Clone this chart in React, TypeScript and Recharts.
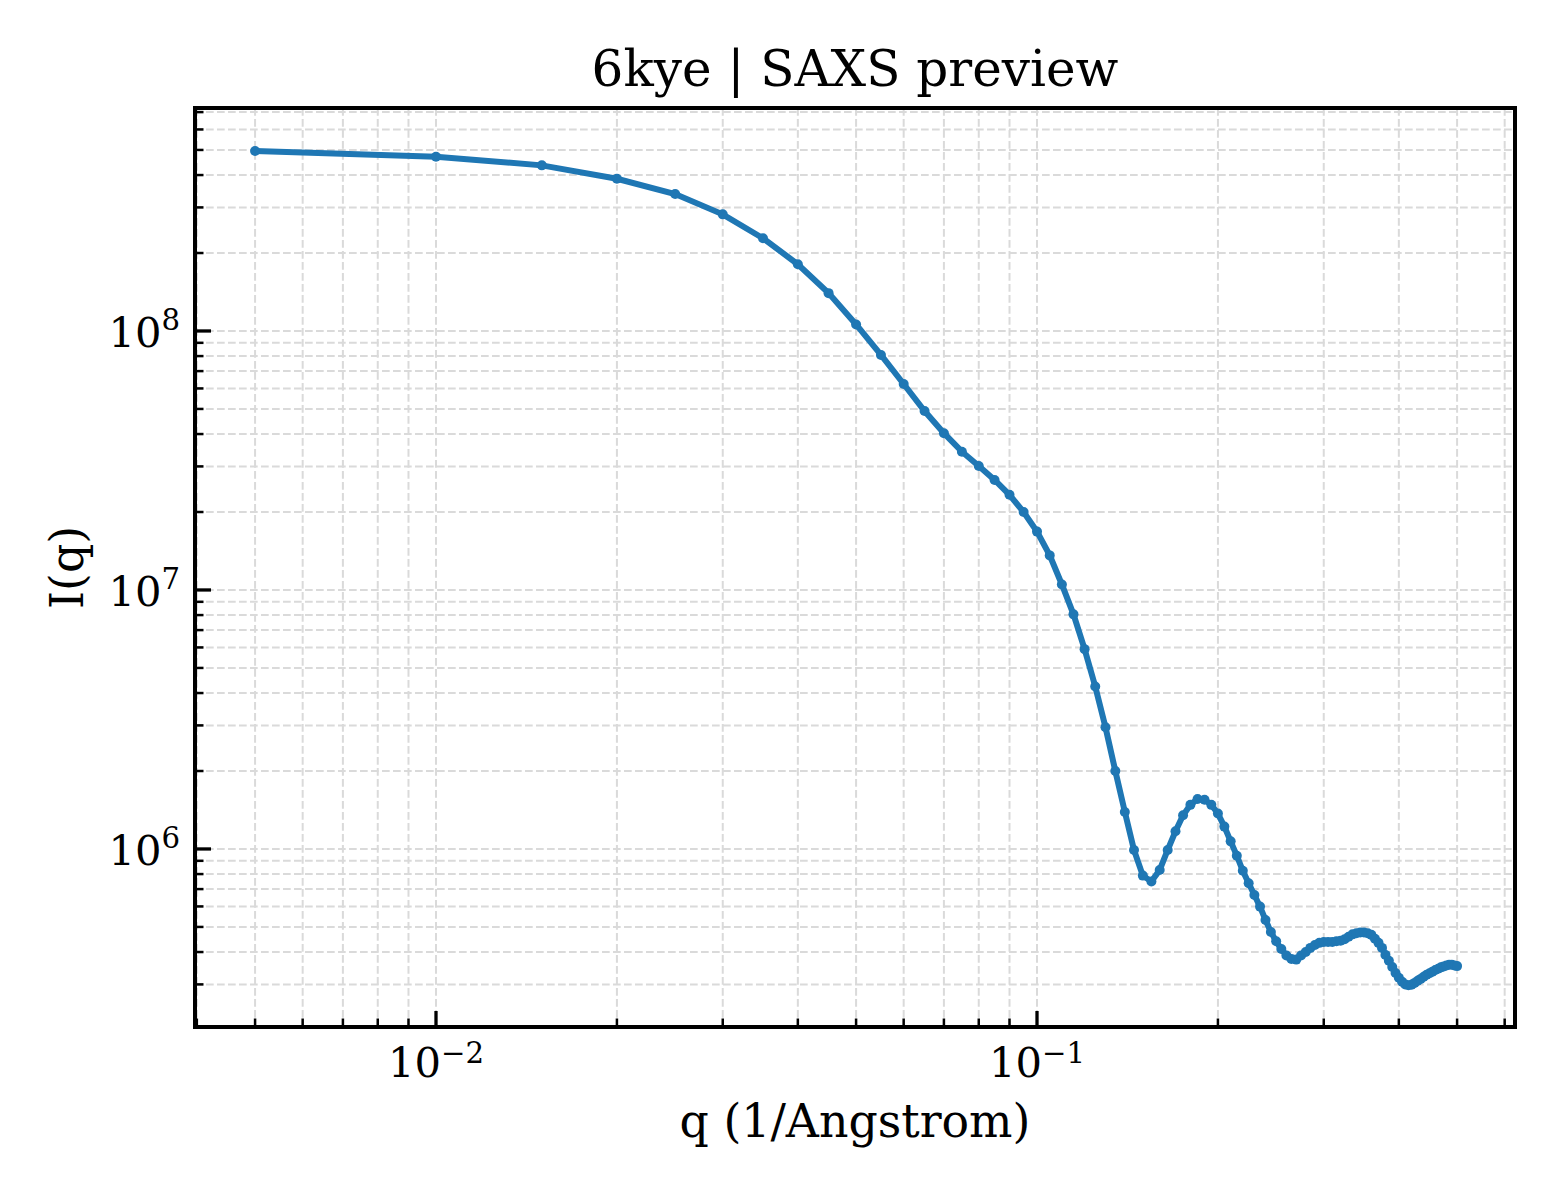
import React from 'react';
import { LineChart, Line, XAxis, YAxis, CartesianGrid, ReferenceArea } from 'recharts';

// q values (1/Angstrom)
const qValues = [
  0.005, 0.01, 0.015, 0.02, 0.025, 0.03, 0.035, 0.04, 0.045, 0.05,
  0.055, 0.06, 0.065, 0.07, 0.075, 0.08, 0.085, 0.09, 0.095, 0.1,
  0.105, 0.11, 0.115, 0.12, 0.125, 0.13, 0.135, 0.14, 0.145, 0.15,
  0.155, 0.16, 0.165, 0.17, 0.175, 0.18, 0.185, 0.19, 0.195, 0.2,
  0.205, 0.21, 0.215, 0.22, 0.225, 0.23, 0.235, 0.24, 0.245, 0.25,
  0.255, 0.26, 0.265, 0.27, 0.275, 0.28, 0.285, 0.29, 0.295, 0.3,
  0.305, 0.31, 0.315, 0.32, 0.325, 0.33, 0.335, 0.34, 0.345, 0.35,
  0.355, 0.36, 0.365, 0.37, 0.375, 0.38, 0.385, 0.39, 0.395, 0.4,
  0.405, 0.41, 0.415, 0.42, 0.425, 0.43, 0.435, 0.44, 0.445, 0.45,
  0.455, 0.46, 0.465, 0.47, 0.475, 0.48, 0.485, 0.49, 0.495, 0.5,
];

// I(q)
const intensity = [
  4.95e8, 4.71e8, 4.36e8, 3.87e8, 3.38e8, 2.82e8, 2.28e8, 1.81e8, 1.40e8, 1.06e8,
  8.08e7, 6.24e7, 4.91e7, 4.03e7, 3.42e7, 3.01e7, 2.66e7, 2.33e7, 2.00e7, 1.68e7,
  1.36e7, 1.05e7, 8.05e6, 5.91e6, 4.24e6, 2.95e6, 2.00e6, 1.39e6, 9.91e5, 7.89e5,
  7.49e5, 8.30e5, 9.91e5, 1.17e6, 1.35e6, 1.48e6, 1.56e6, 1.55e6, 1.48e6, 1.37e6,
  1.22e6, 1.07e6, 9.42e5, 8.24e5, 7.37e5, 6.64e5, 5.99e5, 5.32e5, 4.78e5, 4.40e5,
  4.11e5, 3.88e5, 3.76e5, 3.74e5, 3.88e5, 4.00e5, 4.15e5, 4.26e5, 4.34e5, 4.37e5,
  4.37e5, 4.37e5, 4.40e5, 4.42e5, 4.48e5, 4.58e5, 4.68e5, 4.73e5, 4.76e5, 4.76e5,
  4.73e5, 4.66e5, 4.50e5, 4.34e5, 4.15e5, 3.90e5, 3.70e5, 3.50e5, 3.32e5, 3.18e5,
  3.07e5, 3.00e5, 2.98e5, 2.99e5, 3.04e5, 3.10e5, 3.15e5, 3.21e5, 3.27e5, 3.31e5,
  3.36e5, 3.41e5, 3.45e5, 3.49e5, 3.52e5, 3.55e5, 3.57e5, 3.57e5, 3.55e5, 3.53e5,
];

const xTicks = [
  0.004, 0.005, 0.006, 0.007, 0.008, 0.009,
  0.01, 0.02, 0.03, 0.04, 0.05, 0.06, 0.07, 0.08, 0.09,
  0.1, 0.2, 0.3, 0.4, 0.5, 0.6,
];
const xMajorExponents: Record<string, string> = { '0.01': '\u22122', '0.1': '\u22121' };

const yTicks = [
  3e5, 4e5, 5e5, 6e5, 7e5, 8e5, 9e5,
  1e6, 2e6, 3e6, 4e6, 5e6, 6e6, 7e6, 8e6, 9e6,
  1e7, 2e7, 3e7, 4e7, 5e7, 6e7, 7e7, 8e7, 9e7,
  1e8, 2e8, 3e8, 4e8, 5e8, 6e8, 7e8,
];
const yMajorExponents: Record<string, string> = { '1000000': '6', '10000000': '7', '100000000': '8' };

const xDomain = [0.003972, 0.6242];
const yDomain = [2.054e5, 7.26e8];

const titleText = '6kye | SAXS preview';
const xLabelText = 'q (1/Angstrom)';
const yLabelText = 'I(q)';

const data = qValues.map((q, i) => ({ q, I: intensity[i] }));

const FONT = '"DejaVu Serif", serif';
const W = 1560;
const H = 1200;
const M = { top: 108, right: 45, bottom: 172, left: 194 };

function XTick(props: any) {
  const { x, y, payload } = props;
  const exp = xMajorExponents[String(payload.value)];
  const major = exp !== undefined;
  return (
    <g>
      <line x1={x} x2={x} y1={y} y2={y - (major ? 16 : 8.5)} stroke="#000" strokeWidth={major ? 3.3 : 2.5} />
      {major && (
        <text x={x} y={y + 50} textAnchor="middle" fontFamily={FONT} fontSize={41.7} fill="#000">
          10<tspan dy={-14} fontSize={29.2}>{exp}</tspan>
        </text>
      )}
    </g>
  );
}

function YTick(props: any) {
  const { x, y, payload } = props;
  const exp = yMajorExponents[String(payload.value)];
  const major = exp !== undefined;
  return (
    <g>
      <line x1={x} x2={x + (major ? 16 : 8.5)} y1={y} y2={y} stroke="#000" strokeWidth={major ? 3.3 : 2.5} />
      {major && (
        <text x={x - 15} y={y + 16} textAnchor="end" fontFamily={FONT} fontSize={41.7} fill="#000">
          10<tspan dy={-17} fontSize={29.2}>{exp}</tspan>
        </text>
      )}
    </g>
  );
}

export default function App() {
  const plotLeft = M.left + 1;
  const plotRight = W - M.right;
  const plotTop = M.top;
  const plotBottom = H - M.bottom - 1;
  const cx = (plotLeft + plotRight) / 2;
  const cy = (plotTop + plotBottom) / 2;
  return (
    <div style={{ position: 'absolute', left: 0, top: 0, width: W, height: H, background: '#fff' }}>
      <LineChart width={W} height={H} data={data} margin={M}>
        <CartesianGrid stroke="#dadada" strokeDasharray="7.7 3.3" strokeWidth={2} />
        <XAxis
          dataKey="q"
          type="number"
          scale="log"
          domain={xDomain}
          allowDataOverflow
          ticks={xTicks}
          interval={0}
          height={1}
          tickSize={0}
          tickMargin={0}
          axisLine={false}
          tickLine={false}
          tick={XTick}
        />
        <YAxis
          type="number"
          scale="log"
          domain={yDomain}
          allowDataOverflow
          ticks={yTicks}
          interval={0}
          width={1}
          tickSize={0}
          tickMargin={0}
          axisLine={false}
          tickLine={false}
          tick={YTick}
        />
        <ReferenceArea
          x1={xDomain[0]}
          x2={xDomain[1]}
          y1={yDomain[0]}
          y2={yDomain[1]}
          fill="none"
          stroke="#000"
          strokeWidth={4}
          ifOverflow="visible"
        />
        <Line
          dataKey="I"
          type="linear"
          stroke="#1f77b4"
          strokeWidth={6}
          dot={{ r: 5, fill: '#1f77b4', stroke: 'none' }}
          activeDot={false}
          isAnimationActive={false}
        />
        <text x={cx} y={86} textAnchor="middle" fontFamily={FONT} fontSize={50} fill="#000">
          {titleText}
        </text>
        <text x={cx} y={1137} textAnchor="middle" fontFamily={FONT} fontSize={45.8} fill="#000">
          {xLabelText}
        </text>
        <text
          x={83}
          y={cy}
          textAnchor="middle"
          fontFamily={FONT}
          fontSize={45.8}
          fill="#000"
          transform={`rotate(-90 83 ${cy})`}
        >
          {yLabelText}
        </text>
      </LineChart>
    </div>
  );
}
